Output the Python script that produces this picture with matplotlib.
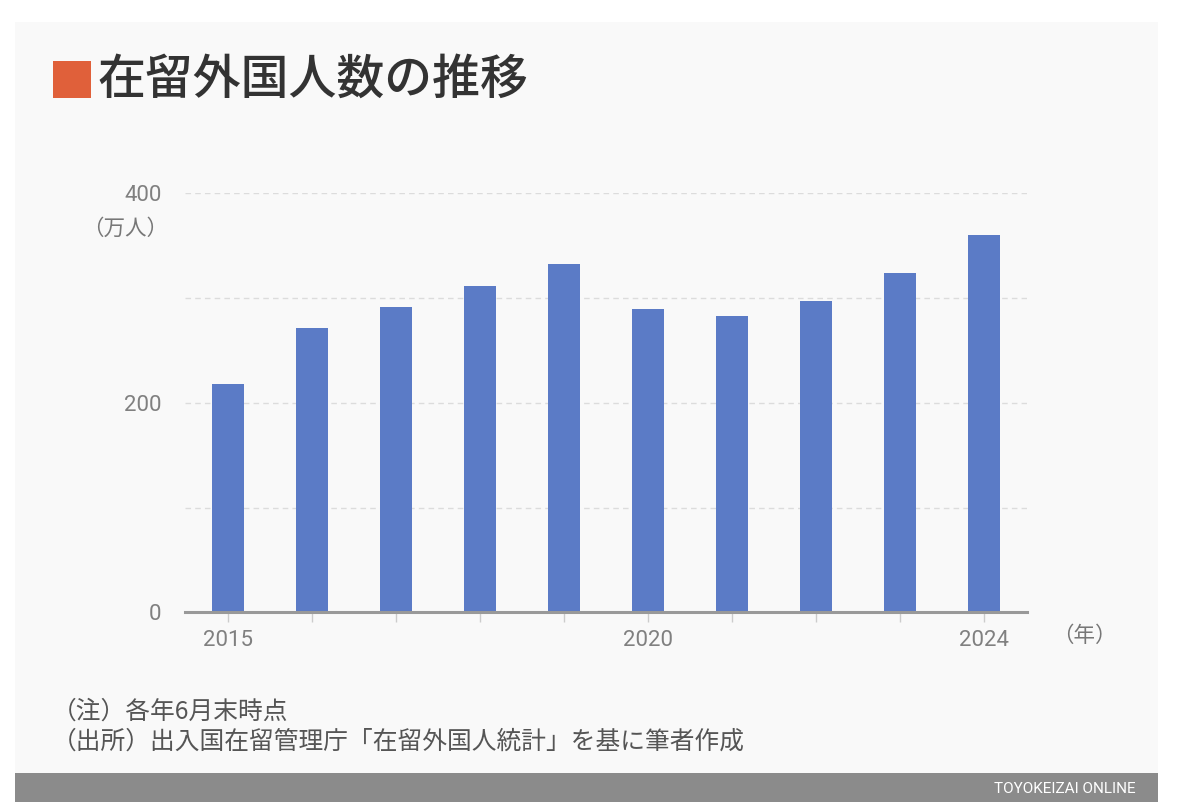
import matplotlib.pyplot as plt
from matplotlib.patches import Rectangle

# data (万人, end of June each year)
years = [2015, 2016, 2017, 2018, 2019, 2020, 2021, 2022, 2023, 2024]
residents = [217.7, 271.7, 291.7, 311.2, 332.5, 289.3, 283.2, 297.2, 323.6, 359.9]
tick_years = [2015, 2020, 2024]
y_ticks = [0, 100, 200, 300, 400]
y_labels = ["0", "", "200", "", "400"]

title = "在留外国人数の推移"
note1 = "（注）各年6月末時点"
note2 = "（出所）出入国在留管理庁「在留外国人統計」を基に筆者作成"

cjk = ["Noto Sans CJK JP", "DejaVu Sans"]
W, H = 1178, 802

fig = plt.figure(figsize=(W / 100, H / 100), dpi=100, facecolor="white")

# panel and footer banner (pixel coords -> figure fraction)
def px(x, y):
    return x / W, 1 - y / H

fig.patches.append(Rectangle(px(15, 773), 1143 / W, 751 / H, transform=fig.transFigure,
                             facecolor="#f9f9f9", edgecolor="none", zorder=-10))
fig.patches.append(Rectangle(px(15, 802), 1143 / W, 29 / H, transform=fig.transFigure,
                             facecolor="#8b8b8b", edgecolor="none", zorder=-10))
fig.patches.append(Rectangle(px(53, 98), 38 / W, 37 / H, transform=fig.transFigure,
                             facecolor="#e0603a", edgecolor="none", zorder=-5))

ax = fig.add_axes([185 / W, 1 - 612.3 / H, 842 / W, 419 / H])
ax.set_facecolor("none")

ax.bar(years, residents, width=0.39, color="#5b7bc6", zorder=3)

ax.set_xlim(years[0] - 0.512, years[-1] + 0.512)
ax.set_ylim(0, 400)

ax.set_yticks(y_ticks)
ax.set_yticklabels(y_labels)
ax.set_xticks(years)
ax.set_xticklabels([str(y) if y in tick_years else "" for y in years])

ax.grid(axis="y", linestyle=(0, (4, 3)), color="#dcdcdc", linewidth=1, zorder=1)
for s in ["top", "right", "left"]:
    ax.spines[s].set_visible(False)
ax.spines["bottom"].set_color("#999999")
ax.spines["bottom"].set_linewidth(2.2)
ax.spines["bottom"].set_zorder(4)

ax.tick_params(axis="y", length=0, pad=17, labelsize=16, labelcolor="#808080")
ax.tick_params(axis="x", length=7, width=1, color="#cccccc", pad=6,
               labelsize=16, labelcolor="#808080")
for lbl in ax.get_xticklabels() + ax.get_yticklabels():
    lbl.set_fontfamily(["Roboto", "DejaVu Sans"])

# texts
fig.text(*px(97, 80), title, family=cjk, fontsize=34.5, fontweight="medium",
         color="#333333", ha="left", va="center")
fig.text(*px(168, 229), "（万人）", family=cjk, fontsize=15.5, color="#777777",
         ha="right", va="center")
fig.text(*px(1117, 636), "（年）", family=cjk, fontsize=15.5, color="#777777",
         ha="right", va="center")
fig.text(*px(52, 712), note1, family=cjk, fontsize=17.8, color="#555555",
         ha="left", va="center")
fig.text(*px(52, 742), note2, family=cjk, fontsize=17.8, color="#555555",
         ha="left", va="center")
fig.text(*px(1136, 789), "TOYOKEIZAI ONLINE",
         family=["Liberation Sans Narrow", "Roboto", "DejaVu Sans"],
         fontsize=11, color="white", ha="right", va="center")

fig.savefig("out.png", dpi=100, facecolor="white")
